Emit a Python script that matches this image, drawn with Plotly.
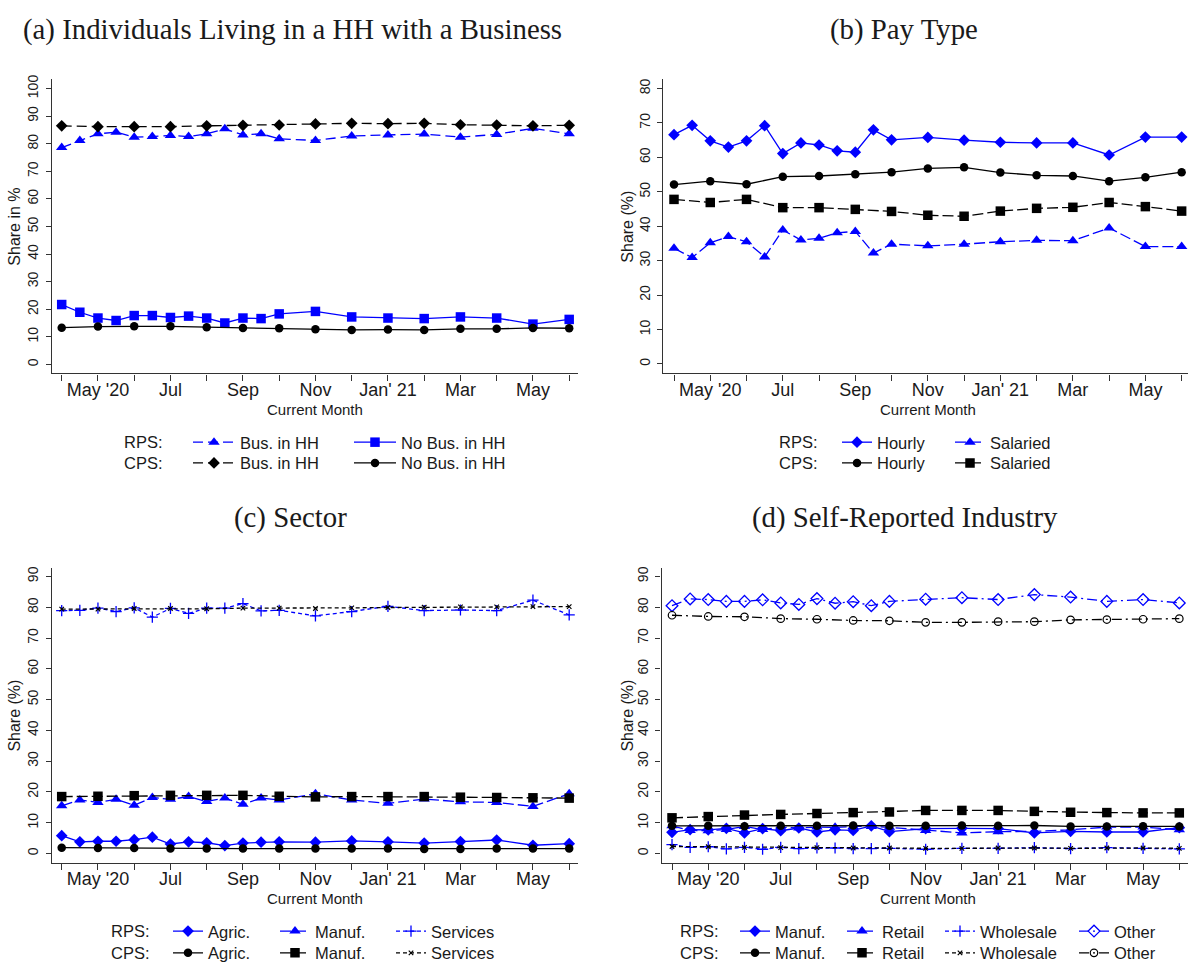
import plotly.graph_objects as go

W, H = 1188, 971
SANS = "Liberation Sans, Arial, Helvetica, sans-serif"
SERIF = "Liberation Serif, Times New Roman, serif"
BLUE = "#0000ff"
BLACK = "#000000"
TXT = "#1a1a1a"

# Month index: 0 = Apr 2020 ... 14 = Jun 2021
rps_x = [0, 0.5, 1, 1.5, 2, 2.5, 3, 3.5, 4, 4.5, 5, 5.5, 6, 7, 8, 9, 10, 11, 12, 13, 14]
cps_x = list(range(15))
month_ticks = list(range(15))
month_labels = ["", "May '20", "", "Jul", "", "Sep", "", "Nov", "", "Jan' 21", "", "Mar", "", "May", ""]

# (a) Business in household
rps_bus = [78.6, 81.2, 83.6, 84.2, 82.4, 82.6, 83.0, 82.6, 83.6, 85.4, 83.2, 83.6, 81.8, 81.2, 82.8, 83.2, 83.5, 82.4, 83.4, 85.6, 83.6]
rps_nobus = [21.7, 18.9, 16.8, 15.9, 17.7, 17.7, 17.0, 17.5, 16.8, 15.0, 16.8, 16.6, 18.3, 19.2, 17.2, 16.8, 16.6, 17.2, 16.8, 14.6, 16.3]
cps_bus = [86.5, 86.2, 86.2, 86.2, 86.5, 86.7, 86.8, 87.2, 87.4, 87.3, 87.4, 86.9, 86.8, 86.5, 86.7]
cps_nobus = [13.3, 13.7, 13.8, 13.8, 13.5, 13.2, 13.1, 12.7, 12.5, 12.6, 12.5, 12.9, 12.9, 13.2, 13.1]

# (b) Pay type
rps_hourly = [66.6, 69.3, 64.8, 63.0, 64.8, 69.2, 61.1, 64.2, 63.6, 61.9, 61.5, 68.0, 65.1, 65.8, 65.0, 64.4, 64.2, 64.2, 60.7, 65.9, 65.9]
rps_salaried = [33.6, 30.9, 35.2, 37.0, 35.5, 31.1, 38.9, 36.0, 36.5, 38.1, 38.5, 32.2, 34.8, 34.3, 34.8, 35.5, 35.9, 35.8, 39.5, 34.1, 34.1]
cps_hourly = [52.1, 53.1, 52.2, 54.4, 54.6, 55.1, 55.7, 56.8, 57.1, 55.6, 54.8, 54.6, 53.1, 54.2, 55.7]
cps_salaried = [47.8, 46.9, 47.8, 45.4, 45.4, 44.9, 44.3, 43.2, 42.9, 44.4, 45.2, 45.5, 46.9, 45.7, 44.4]

# (c) Sector
rps_agric = [5.8, 3.8, 4.0, 4.0, 4.5, 5.3, 3.1, 3.8, 3.5, 2.6, 3.4, 3.7, 3.8, 3.7, 4.1, 3.8, 3.4, 3.9, 4.4, 2.7, 3.2]
rps_manuf_sec = [15.5, 17.4, 16.6, 17.6, 15.7, 18.2, 17.6, 18.5, 16.9, 18.0, 16.0, 18.0, 17.4, 19.4, 17.4, 16.3, 17.7, 16.8, 16.6, 15.3, 19.4]
rps_services = [78.9, 79.0, 79.7, 78.6, 79.8, 76.8, 79.6, 78.0, 79.7, 79.7, 81.2, 78.8, 79.0, 77.2, 78.6, 80.3, 78.9, 79.1, 78.9, 82.3, 77.5]
cps_agric = [1.9, 1.8, 1.8, 1.6, 1.6, 1.6, 1.6, 1.6, 1.6, 1.6, 1.5, 1.5, 1.6, 1.6, 1.6]
cps_manuf_sec = [18.5, 18.6, 18.8, 18.9, 18.9, 18.9, 18.6, 18.4, 18.5, 18.5, 18.5, 18.3, 18.2, 18.1, 18.0]
cps_services = [79.4, 79.4, 79.6, 79.6, 79.5, 79.7, 79.7, 79.6, 79.8, 79.9, 80.0, 80.1, 80.1, 80.2, 80.2]

# (d) Self-reported industry
rps_manuf_ind = [6.9, 7.8, 7.7, 8.2, 6.7, 8.1, 7.4, 8.3, 7.0, 7.7, 7.5, 9.0, 7.1, 8.1, 8.2, 8.1, 6.7, 7.2, 7.0, 7.0, 8.4]
rps_retail = [9.0, 7.5, 7.4, 7.8, 8.8, 7.8, 8.6, 8.3, 8.6, 8.5, 8.8, 8.8, 8.5, 7.5, 6.7, 7.1, 7.2, 7.7, 8.6, 8.6, 7.7]
rps_wholesale = [2.9, 2.0, 2.2, 1.5, 2.0, 1.4, 2.0, 1.6, 1.8, 1.8, 1.6, 1.6, 1.7, 1.4, 1.7, 1.7, 1.9, 1.6, 1.9, 1.7, 1.5]
rps_other = [80.5, 82.7, 82.5, 81.9, 81.9, 82.4, 81.4, 80.9, 82.8, 81.3, 81.8, 80.5, 81.9, 82.6, 83.1, 82.5, 84.1, 83.3, 81.9, 82.5, 81.4]
cps_manuf_ind = [9.0, 9.0, 8.9, 9.0, 9.0, 9.1, 9.0, 9.0, 9.1, 9.0, 9.1, 8.8, 8.8, 8.9, 8.8]
cps_retail = [11.6, 12.0, 12.5, 12.7, 13.0, 13.3, 13.5, 14.0, 14.0, 14.0, 13.7, 13.4, 13.3, 13.2, 13.2]
cps_wholesale = [2.3, 2.2, 2.0, 1.9, 1.9, 1.8, 1.8, 1.7, 1.7, 1.8, 1.8, 1.7, 1.8, 1.8, 1.7]
cps_other = [77.4, 77.0, 76.9, 76.3, 76.1, 75.7, 75.6, 75.1, 75.1, 75.3, 75.3, 75.9, 76.0, 76.1, 76.3]

DASH = "10px,5px"
LDASH = "11px,4px"
SDASH = "4px,3px"
DASHDOT = "10px,4px,2px,4px"

fig = go.Figure()


def add(x, y, name, color, dash, symbol, size, axis, legend, lw=1.3, mline=0, lwidth=None):
    xa, ya = axis
    fig.add_trace(go.Scatter(
        x=x, y=y, name=name, mode="lines+markers",
        line=dict(color=color, width=lw, dash=dash),
        marker=dict(symbol=symbol, size=size, color=color,
                    line=dict(color=color, width=mline)),
        xaxis=xa, yaxis=ya, legend=legend, legendwidth=lwidth,
        cliponaxis=False,
    ))


A = ("x", "y")
B = ("x2", "y2")
C = ("x3", "y3")
D = ("x4", "y4")

# (a)
add(rps_x, rps_bus, "Bus. in HH", BLUE, DASH, "triangle-up", 10, A, "legend", lwidth=104)
add(rps_x, rps_nobus, "No Bus. in HH", BLUE, "solid", "square", 9.5, A, "legend")
add(cps_x, cps_bus, "Bus. in HH", BLACK, DASH, "diamond", 9, A, "legend2", lwidth=104)
add(cps_x, cps_nobus, "No Bus. in HH", BLACK, "solid", "circle", 8.5, A, "legend2")

# (b)
add(rps_x, rps_hourly, "Hourly", BLUE, "solid", "diamond", 9, B, "legend3", lwidth=68)
add(rps_x, rps_salaried, "Salaried", BLUE, LDASH, "triangle-up", 10, B, "legend3")
add(cps_x, cps_hourly, "Hourly", BLACK, "solid", "circle", 8.5, B, "legend4", lwidth=68)
add(cps_x, cps_salaried, "Salaried", BLACK, LDASH, "square", 9.5, B, "legend4")

# (c)
add(rps_x, rps_agric, "Agric.", BLUE, "solid", "diamond", 9, C, "legend5", lwidth=62)
add(rps_x, rps_manuf_sec, "Manuf.", BLUE, LDASH, "triangle-up", 10, C, "legend5", lwidth=71)
add(rps_x, rps_services, "Services", BLUE, SDASH, "cross-thin", 8, C, "legend5", mline=1.3)
add(cps_x, cps_agric, "Agric.", BLACK, "solid", "circle", 8.5, C, "legend6", lwidth=62)
add(cps_x, cps_manuf_sec, "Manuf.", BLACK, LDASH, "square", 9.5, C, "legend6", lwidth=71)
add(cps_x, cps_services, "Services", BLACK, SDASH, "x-thin", 4.5, C, "legend6", mline=1.2)

# (d)
add(rps_x, rps_manuf_ind, "Manuf.", BLUE, "solid", "diamond", 9, D, "legend7", lwidth=62)
add(rps_x, rps_retail, "Retail", BLUE, LDASH, "triangle-up", 10, D, "legend7", lwidth=53)
add(rps_x, rps_wholesale, "Wholesale", BLUE, SDASH, "cross-thin", 8, D, "legend7", mline=1.3, lwidth=89)
add(rps_x, rps_other, "Other", BLUE, DASHDOT, "diamond-open", 9, D, "legend7", mline=1.3)
add(cps_x, cps_manuf_ind, "Manuf.", BLACK, "solid", "circle", 8.5, D, "legend8", lwidth=62)
add(cps_x, cps_retail, "Retail", BLACK, LDASH, "square", 9.5, D, "legend8", lwidth=53)
add(cps_x, cps_wholesale, "Wholesale", BLACK, SDASH, "x-thin", 4.5, D, "legend8", mline=1.2, lwidth=89)
add(cps_x, cps_other, "Other", BLACK, DASHDOT, "circle-open", 7.5, D, "legend8", mline=1.2)


def px_x(p):
    return p / W


def px_y(p):
    return 1 - p / H


def xaxis(dom, rng, anchor):
    return dict(domain=[px_x(dom[0]), px_x(dom[1])], range=rng, anchor=anchor,
                tickmode="array", tickvals=month_ticks, ticktext=month_labels,
                ticks="outside", ticklen=6, tickwidth=1.1, tickcolor="#333",
                showline=True, linecolor="#333", linewidth=1.2,
                showgrid=False, zeroline=False,
                tickfont=dict(family=SANS, size=18, color=TXT), ticklabelstandoff=-6)


def yaxis(dom, rng, top, anchor):
    return dict(domain=[px_y(dom[1]), px_y(dom[0])], range=rng, anchor=anchor,
                tickmode="array", tickvals=list(range(0, top + 1, 10)),
                ticks="outside", ticklen=5, tickwidth=1.1, tickcolor="#333",
                showline=True, linecolor="#333", linewidth=1.2,
                showgrid=False, zeroline=False, tickangle=-90,
                tickfont=dict(family=SANS, size=14, color=TXT), ticklabelstandoff=2)


def legend_row(x0, yc):
    return dict(x=px_x(x0), y=px_y(yc), xanchor="left", yanchor="middle",
                orientation="h", bgcolor="rgba(0,0,0,0)", borderwidth=0,
                font=dict(family=SANS, size=16.5, color=TXT),
                itemwidth=30, traceorder="normal", tracegroupgap=0,
                itemclick=False, itemdoubleclick=False)


lega = legend_row(188, 442)
lega["itemwidth"] = 42
legb = legend_row(188, 463)
legb["itemwidth"] = 42

fig.update_layout(
    width=W, height=H, margin=dict(l=0, r=0, t=0, b=0),
    paper_bgcolor="white", plot_bgcolor="white",
    xaxis=xaxis((51.7, 578), [-0.276, 14.243], "y"),
    yaxis=yaxis((75, 372.3), [-3.3, 103.4], 100, "x"),
    xaxis2=xaxis((663.3, 1188), [-0.295, 14.175], "y2"),
    yaxis2=yaxis((75, 372.3), [-2.76, 82.7], 80, "x2"),
    xaxis3=xaxis((51.7, 578), [-0.276, 14.243], "y3"),
    yaxis3=yaxis((569.3, 866.7), [-3.0, 92.6], 90, "x3"),
    xaxis4=xaxis((661.5, 1188), [-0.29, 14.24], "y4"),
    yaxis4=yaxis((569.3, 866.7), [-3.0, 92.6], 90, "x4"),
    legend=lega, legend2=legb,
    legend3=legend_row(837, 442), legend4=legend_row(837, 463),
    legend5=legend_row(168, 936), legend6=legend_row(168, 958),
    legend7=legend_row(735, 936), legend8=legend_row(735, 958),
)

ann = []


def text(x, y, s, size, family=SANS, xanchor="center", angle=0):
    ann.append(dict(x=px_x(x), y=px_y(y), xref="paper", yref="paper", text=s,
                    showarrow=False, xanchor=xanchor, yanchor="middle",
                    textangle=angle, font=dict(family=family, size=size, color=TXT)))


# panel titles
text(292, 25, "(a) Individuals Living in a HH with a Business", 28.8, SERIF)
text(904, 25, "(b) Pay Type", 28.8, SERIF)
text(290, 518, "(c) Sector", 28.8, SERIF)
text(905, 518, "(d) Self-Reported Industry", 28.8, SERIF)

# axis titles
text(15, 224, "Share in %", 16, angle=-90)
text(628, 224, "Share (%)", 16, angle=-90)
text(15, 718, "Share (%)", 16, angle=-90)
text(628, 718, "Share (%)", 16, angle=-90)
text(315, 409, "Current Month", 15)
text(928, 409, "Current Month", 15)
text(315, 903, "Current Month", 15)
text(928, 903, "Current Month", 15)

# legend row labels
for (xr, y1, y2) in [(165, 442, 463), (820, 442, 463), (152, 936, 958), (721, 936, 958)]:
    text(xr, y1, "RPS:", 16.5, xanchor="right")
    text(xr, y2, "CPS:", 16.5, xanchor="right")

fig.update_layout(annotations=ann)
fig.write_html("out.html")
